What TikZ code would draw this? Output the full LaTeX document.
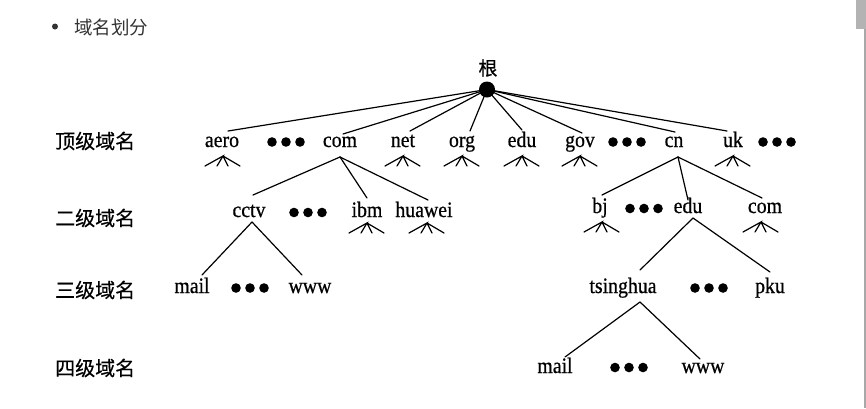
\documentclass[tikz,border=0pt]{standalone}
\usepackage{fontspec}
\setmainfont{Liberation Serif}
\newfontfamily\treefont{Liberation Serif}[FakeBold=0.6,FakeStretch=0.9]
\newfontfamily\cjk{Noto Sans CJK SC}
\newfontfamily\cjkheavy{Noto Sans CJK SC}[FakeBold=0.5]
\definecolor{titlegray}{HTML}{333333}
\definecolor{barthumb}{HTML}{B3B3B3}
\definecolor{barline}{HTML}{A8A8A8}
\tikzset{
  lbl/.style={font=\treefont\fontsize{22}{26}\selectfont, inner sep=0pt, anchor=base},
  lvl/.style={font=\cjkheavy\fontsize{20}{22}\selectfont, inner sep=0pt, anchor=west},
  edge/.style={line width=1.2pt, line cap=round},
  fan/.pic={\draw[line width=1.2pt, line cap=round]
      (-18,10) -- (0,0) -- (-6,10) (0,0) -- (5,10) (0,0) -- (17,10);},
  tridots/.pic={\fill (-14,0) circle (4.8pt); \fill (0,0) circle (4.8pt); \fill (14,0) circle (4.8pt);}
}
\begin{document}
\begin{tikzpicture}[x=1pt,y=-1pt]
\useasboundingbox (0,0) rectangle (866,408);
% page decoration
\fill[barthumb] (856,0) rectangle (866,29);
\coordinate (barA) at (865,29);
\coordinate (barB) at (865,408);
\draw[barline, line width=1.2pt] (barA) -- (barB);
% title
\fill[titlegray] (55,26.5) circle (3pt);
\node[anchor=west, inner sep=0pt, text=titlegray, font=\cjk\fontsize{18.5}{20}\selectfont] (title) at (74,27) {域名划分};
% level labels
\node[lvl] (L1) at (55,141) {顶级域名};
\node[lvl] (L2) at (55,218) {二级域名};
\node[lvl] (L3) at (55,290) {三级域名};
\node[lvl] (L4) at (55,368) {四级域名};
% root
\node[font=\cjkheavy\fontsize{19}{21}\selectfont, inner sep=0pt] (rootlbl) at (488,68) {根};
\node[circle, fill, minimum size=16pt, inner sep=0pt] (root) at (487,89.5) {};
% top level
\node[lbl] (aero) at (222,147) {aero};
\node[lbl] (com) at (340,147) {com};
\node[lbl] (net) at (403,147) {net};
\node[lbl] (org) at (462,147) {org};
\node[lbl] (edu) at (522,147) {edu};
\node[lbl] (gov) at (580,147) {gov};
\node[lbl] (cn) at (674,147) {cn};
\node[lbl] (uk) at (733,147) {uk};
\pic at (286,142) {tridots};
\pic at (627,142) {tridots};
\pic at (777,142) {tridots};
\draw[edge] (root.center) -- ([shift={(6,-16)}]aero.base);
\draw[edge] (root.center) -- ([shift={(3,-13)}]com.base);
\draw[edge] (root.center) -- ([shift={(7,-16)}]net.base);
\draw[edge] (root.center) -- ([shift={(8,-16)}]org.base);
\draw[edge] (root.center) -- ([shift={(0,-17)}]edu.base);
\draw[edge] (root.center) -- ([shift={(2,-14)}]gov.base);
\draw[edge] (root.center) -- ([shift={(1,-15)}]cn.base);
\draw[edge] (root.center) -- ([shift={(-6,-16)}]uk.base);
\pic at ([shift={(1,9)}]aero.base) {fan};
\pic at ([shift={(0,9)}]net.base) {fan};
\pic at ([shift={(0,9)}]org.base) {fan};
\pic at ([shift={(0,9)}]edu.base) {fan};
\pic at ([shift={(0,9)}]gov.base) {fan};
\pic at ([shift={(0,9)}]uk.base) {fan};
% second level, left
\node[lbl] (cctv) at (249,217) {cctv};
\node[lbl] (ibm) at (367,217) {ibm};
\node[lbl] (huawei) at (424,217) {huawei};
\pic at (308,212.5) {tridots};
\draw[edge] ([shift={(0,10)}]com.base) -- ([shift={(4,-22)}]cctv.base);
\draw[edge] ([shift={(0,10)}]com.base) -- ([shift={(0,-19)}]ibm.base);
\draw[edge] ([shift={(0,10)}]com.base) -- ([shift={(4,-17)}]huawei.base);
\pic at ([shift={(0,6)}]ibm.base) {fan};
\pic at ([shift={(3,6)}]huawei.base) {fan};
% second level, right
\node[lbl] (bj) at (600,213) {bj};
\node[lbl] (edub) at (688,213) {edu};
\node[lbl] (comb) at (765,213) {com};
\pic at (644,208.5) {tridots};
\draw[edge] ([shift={(4,10)}]cn.base) -- ([shift={(2,-18)}]bj.base);
\draw[edge] ([shift={(4,10)}]cn.base) -- ([shift={(0,-13)}]edub.base);
\draw[edge] ([shift={(4,10)}]cn.base) -- ([shift={(-3,-15)}]comb.base);
\pic at ([shift={(2,9)}]bj.base) {fan};
\pic at ([shift={(-4,9)}]comb.base) {fan};
% third level
\node[lbl] (maila) at (192,293) {mail};
\node[lbl] (wwwa) at (310,293) {www};
\pic at (250,288) {tridots};
\draw[edge] ([shift={(3,5)}]cctv.base) -- ([shift={(10,-18)}]maila.base);
\draw[edge] ([shift={(3,5)}]cctv.base) -- ([shift={(-8,-18)}]wwwa.base);
\node[lbl] (tsinghua) at (623,293) {tsinghua};
\node[lbl] (pku) at (770,293) {pku};
\pic at (709,288) {tridots};
\draw[edge] ([shift={(5,5)}]edub.base) -- ([shift={(17,-23)}]tsinghua.base);
\draw[edge] ([shift={(5,5)}]edub.base) -- ([shift={(0,-21)}]pku.base);
% fourth level
\node[lbl] (mailb) at (555,373) {mail};
\node[lbl] (wwwb) at (703,373) {www};
\pic at (629,367.5) {tridots};
\draw[edge] ([shift={(17,9)}]tsinghua.base) -- ([shift={(10,-16)}]mailb.base);
\draw[edge] ([shift={(17,9)}]tsinghua.base) -- ([shift={(-3,-14)}]wwwb.base);
\end{tikzpicture}
\end{document}
